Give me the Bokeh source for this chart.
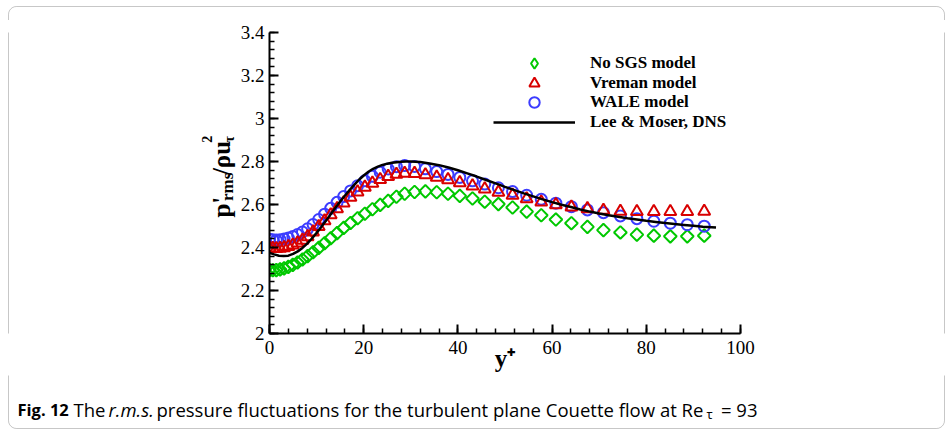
import math
from bokeh.plotting import figure
from bokeh.layouts import column, row
from bokeh.models import (ColumnDataSource, FixedTicker, Label, Legend, LegendItem,
                          PolyAnnotation)
from bokeh.embed import file_html
from bokeh.resources import INLINE

# ---------------- data ----------------
y_plus = [0, 0.7, 1.45, 2.25, 3.1, 4.0, 4.95, 5.95, 7.0, 8.1,
          9.25, 10.45, 11.7, 13.0, 14.35, 15.75, 17.2, 18.7, 20.25, 21.85,
          23.5, 25.2, 26.95, 28.7, 30.8, 33.1, 35.5, 37.9, 40.4, 43.1,
          45.7, 48.6, 51.6, 54.6, 57.7, 60.8, 64.1, 67.5, 70.9, 74.5,
          78.0, 81.6, 85.1, 88.7, 92.3]

no_sgs = [2.295, 2.294, 2.295, 2.298, 2.303, 2.310, 2.319, 2.330, 2.344, 2.360,
          2.378, 2.398, 2.420, 2.443, 2.467, 2.491, 2.514, 2.536, 2.557, 2.578,
          2.598, 2.617, 2.636, 2.650, 2.658, 2.661, 2.657, 2.650, 2.640, 2.628,
          2.613, 2.602, 2.586, 2.567, 2.550, 2.530, 2.513, 2.496, 2.481, 2.470,
          2.460, 2.455, 2.452, 2.452, 2.455]

vreman = [2.398, 2.396, 2.395, 2.396, 2.399, 2.404, 2.411, 2.421, 2.434, 2.450,
          2.472, 2.497, 2.524, 2.552, 2.580, 2.607, 2.634, 2.658, 2.680, 2.699,
          2.716, 2.730, 2.740, 2.745, 2.744, 2.738, 2.727, 2.715, 2.701, 2.686,
          2.672, 2.657, 2.643, 2.626, 2.611, 2.599, 2.588, 2.580, 2.573, 2.568,
          2.567, 2.567, 2.567, 2.567, 2.568]

wale = [2.438, 2.436, 2.435, 2.436, 2.439, 2.444, 2.451, 2.460, 2.472, 2.487,
        2.507, 2.530, 2.555, 2.582, 2.610, 2.637, 2.663, 2.687, 2.710, 2.731,
        2.750, 2.765, 2.776, 2.781, 2.777, 2.766, 2.753, 2.740, 2.726, 2.710,
        2.695, 2.678, 2.660, 2.643, 2.624, 2.606, 2.590, 2.575, 2.562, 2.547,
        2.534, 2.522, 2.513, 2.506, 2.499]

dns_y_plus = [0, 1, 2, 3, 4, 5, 6, 7, 8, 9, 10, 11, 12, 13, 14, 15, 16, 17, 18, 19,
              20, 21, 22, 23, 24, 25, 26, 27, 28, 29, 30, 32, 34, 36, 38, 40, 42, 44,
              46, 48, 50, 52, 54, 56, 58, 60, 62, 64, 66, 68, 70, 72, 74, 76, 78, 80,
              82, 84, 86, 88, 90, 92, 94.8]
dns_p = [2.375, 2.368, 2.362, 2.360, 2.362, 2.370, 2.382, 2.398, 2.418, 2.442,
         2.468, 2.496, 2.525, 2.555, 2.585, 2.614, 2.641, 2.667, 2.691, 2.715,
         2.735, 2.752, 2.766, 2.776, 2.784, 2.790, 2.794, 2.797, 2.799, 2.800,
         2.800, 2.798, 2.791, 2.783, 2.772, 2.759, 2.745, 2.730, 2.714, 2.698,
         2.682, 2.667, 2.652, 2.638, 2.624, 2.611, 2.599, 2.588, 2.577, 2.567,
         2.558, 2.550, 2.543, 2.536, 2.530, 2.524, 2.519, 2.514, 2.509, 2.505,
         2.501, 2.497, 2.493]

x_ticks = [0, 20, 40, 60, 80, 100]
x_tick_labels = ["0", "20", "40", "60", "80", "100"]
y_ticks = [2.0, 2.2, 2.4, 2.6, 2.8, 3.0, 3.2, 3.4]
y_tick_labels = ["2", "2.2", "2.4", "2.6", "2.8", "3", "3.2", "3.4"]

series_names = ["No SGS model", "Vreman model", "WALE model", "Lee & Moser, DNS"]
x_title = "y\u207a"

# ---------------- styling ----------------
GREEN = "#00c800"
RED = "#d80000"
BLUE = "#3c3cff"
SERIF = "Liberation Serif"
SANS = "Open Sans"

W, H = 952, 431
# layout blocks (canvas pixels): top strip, middle row (left | main | right), bottom strip
TOP_H, MID_H = 20, 355
BOT_H = H - TOP_H - MID_H
LEFT_W, MAIN_W = 236, 524
RIGHT_W = W - LEFT_W - MAIN_W
FL, FT, FR, FB = 269, 32, 740, 333  # plotting frame edges in canvas pixels

p = figure(width=MAIN_W, height=MID_H, x_range=(0, 100), y_range=(2.0, 3.4),
           min_border_left=FL - LEFT_W, min_border_right=LEFT_W + MAIN_W - FR,
           min_border_top=FT - TOP_H, min_border_bottom=TOP_H + MID_H - FB,
           output_backend="svg", toolbar_location=None)
p.outline_line_color = None
p.background_fill_color = "white"
p.border_fill_color = "white"
p.xgrid.visible = False
p.ygrid.visible = False

p.xaxis.ticker = FixedTicker(ticks=x_ticks,
                             minor_ticks=[4 * i for i in range(26)])
p.xaxis.major_label_overrides = dict(zip(x_ticks, x_tick_labels))
p.yaxis.ticker = FixedTicker(ticks=y_ticks,
                             minor_ticks=[round(2 + 0.04 * i, 2) for i in range(36)])
p.yaxis.major_label_overrides = dict(zip(y_ticks, y_tick_labels))

for ax in (p.xaxis[0], p.yaxis[0]):
    ax.axis_line_color = "black"
    ax.axis_line_width = 2
    ax.major_tick_in = 9
    ax.major_tick_out = 0
    ax.minor_tick_in = 5
    ax.minor_tick_out = 0
    ax.major_tick_line_width = 2
    ax.minor_tick_line_width = 1.5
    ax.major_tick_line_color = "black"
    ax.minor_tick_line_color = "black"
    ax.major_label_text_font = SERIF
    ax.major_label_text_font_size = "19px"
    ax.major_label_text_color = "black"
p.xaxis.major_label_standoff = 7
p.yaxis.major_label_standoff = 5
p.xaxis.axis_label = x_title
p.xaxis.axis_label_text_font = SERIF
p.xaxis.axis_label_text_font_style = "bold"
p.xaxis.axis_label_text_font_size = "25px"
p.xaxis.axis_label_text_color = "black"
p.xaxis.axis_label_standoff = -12

src = ColumnDataSource(dict(y_plus=y_plus, no_sgs=no_sgs, vreman=vreman, wale=wale))
dns = ColumnDataSource(dict(y_plus=dns_y_plus, p=dns_p))

r_g = p.scatter("y_plus", "no_sgs", source=src, marker="square", angle=math.pi / 4,
                size=9, fill_color=None, line_color=GREEN, line_width=2)
r_b = p.scatter("y_plus", "wale", source=src, marker="circle", size=11,
                fill_color=None, line_color=BLUE, line_width=2)
r_r = p.scatter("y_plus", "vreman", source=src, marker="triangle", size=12,
                fill_color=None, line_color=RED, line_width=2)
r_l = p.line("y_plus", "p", source=dns, line_color="black", line_width=2.5)
# legend key for the diamonds (legend keys are drawn un-rotated)
r_g_key = p.scatter("y_plus", "no_sgs", source=src, marker="diamond", size=12,
                    fill_color=None, line_color=GREEN, line_width=2, visible=False)

# one legend per row so that the keys can be larger than the row pitch
GLYPH_H = 26
row_centres = [63.3, 82.8, 102.3, 121.8]
for name, rend, yc in zip(series_names, [r_g_key, r_r, r_b, r_l], row_centres):
    lg = Legend(items=[LegendItem(label=name, renderers=[rend])],
                location=(493 - FL, FB - (yc + GLYPH_H / 2)),
                glyph_width=82, glyph_height=GLYPH_H, label_height=GLYPH_H,
                spacing=0, padding=0, margin=0, label_standoff=15,
                border_line_color=None, background_fill_alpha=0,
                inactive_fill_alpha=0,
                label_text_font=SERIF, label_text_font_style="bold",
                label_text_font_size="17px", label_text_color="black")
    p.add_layout(lg)

# ---------------- text blocks around the plot ----------------
R = 8
BX0, BY0, BX1, BY1 = 8, 6, 944, 428
border_x, border_y = [], []
for cx, cy, a0 in [(BX0 + R, BY0 + R, 180), (BX1 - R, BY0 + R, 270),
                   (BX1 - R, BY1 - R, 0), (BX0 + R, BY1 - R, 90)]:
    for k in range(7):
        a = math.radians(a0 + 15 * k)
        border_x.append(cx + R * math.cos(a))
        border_y.append(cy + R * math.sin(a))


def text_fig(w, h, ox, oy):
    # local data coordinates: x = canvas x - ox, y = (oy + h) - canvas y
    f = figure(width=w, height=h, x_range=(0, w), y_range=(0, h), min_border=0,
               output_backend="svg", toolbar_location=None,
               x_axis_type=None, y_axis_type=None)
    f.outline_line_color = None
    f.background_fill_color = "white"
    f.border_fill_color = "white"
    f.grid.visible = False
    f.add_layout(PolyAnnotation(xs=[x - ox for x in border_x],
                                ys=[oy + h - y for y in border_y],
                                fill_alpha=0, line_color="#444444", line_width=1))
    f._ox, f._oy, f._h = ox, oy, h
    return f


def lab(f, text, px, py, size, font=SERIF, style="bold", angle=0.0, align="left",
        baseline="alphabetic"):
    f.add_layout(Label(x=px - f._ox, y=f._oy + f._h - py, text=text, angle=angle,
                       text_font=font, text_font_style=style,
                       text_font_size=size, text_color="black",
                       text_baseline=baseline, text_align=align))


f_top = text_fig(W, TOP_H, 0, 0)
f_left = text_fig(LEFT_W, MID_H, 0, TOP_H)
f_right = text_fig(RIGHT_W, MID_H, LEFT_W + MAIN_W, TOP_H)
f_bot = text_fig(W, BOT_H, 0, TOP_H + MID_H)

# y-axis title: p'_rms / rho u_tau^2 (rotated, reading upwards; pieces centred)
A = math.pi / 2
lab(f_left, "p'", 221, 226, "25px", angle=A, align="center", baseline="middle")
lab(f_left, "rms", 227, 202, "17px", angle=A, align="center", baseline="middle")
lab(f_left, "/\u03c1u", 221, 168, "25px", angle=A, align="center", baseline="middle")
lab(f_left, "\u03c4", 229, 146, "14px", angle=A, align="center", baseline="middle")
lab(f_left, "2", 206, 146, "14px", angle=A, align="center", baseline="middle")

# caption
lab(f_bot, "Fig. 12", 17, 409, "16.5px", font=SANS, style="bold")
lab(f_bot, "The", 73, 409, "18.5px", font=SANS, style="normal")
lab(f_bot, "r.m.s.", 108, 409, "18.5px", font=SANS, style="italic")
lab(f_bot, "pressure fluctuations for the turbulent plane Couette flow at Re", 156, 409,
    "18.5px", font=SANS, style="normal")
lab(f_bot, "\u03c4", 706, 413, "13px", font=SANS, style="normal")
lab(f_bot, "= 93", 757, 409, "18.5px", font=SANS, style="normal", align="right")

layout = column(f_top, row(f_left, p, f_right, spacing=0), f_bot, spacing=0)
open("out.html", "w").write(file_html(layout, INLINE))
